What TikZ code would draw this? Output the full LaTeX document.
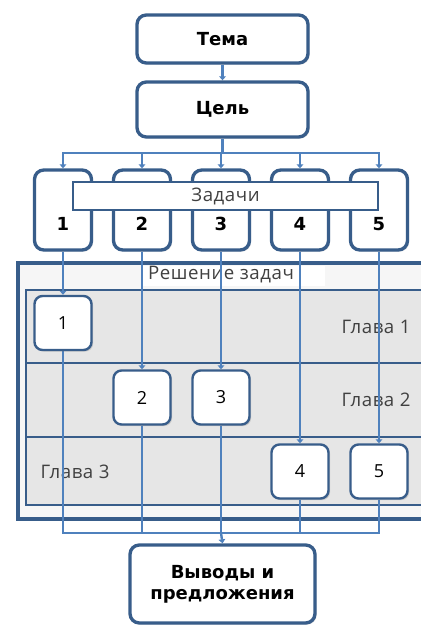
\documentclass[tikz,border=0pt]{standalone}
\usepackage{fontspec}
\setmainfont{Open Sans}[LetterSpace=3]
\newfontfamily\heavyfont{DejaVu Sans}
\usetikzlibrary{arrows.meta,shadows}
\pgfdeclarelayer{panel}
\pgfdeclarelayer{links}
\pgfsetlayers{panel,links,main}
\definecolor{linkblue}{HTML}{4F81BD}
\definecolor{frameblue}{HTML}{385D8A}
\definecolor{rowgray}{HTML}{E6E6E6}
\definecolor{panelgray}{HTML}{F6F6F6}
\definecolor{textgray}{HTML}{404040}
\tikzset{
  link/.style={draw=linkblue, line width=1.8pt},
  arr/.style={link, -{Triangle[length=3pt,width=5pt]}},
  mainbox/.style={draw=frameblue, line width=2.5pt, rounded corners=7pt, fill=white,
    drop shadow={opacity=0.25, shadow xshift=1.2pt, shadow yshift=-1.2pt}},
  heavytext/.style={font=\heavyfont\bfseries\fontsize{13.5}{16}\selectfont, text=black, align=center},
  taskbox/.style={mainbox, minimum width=42.75pt, minimum height=60pt},
  tasknum/.style={font=\heavyfont\bfseries\fontsize{13.5}{16}\selectfont, text=black},
  stepbox/.style={draw=frameblue, line width=1.8pt, rounded corners=6pt, fill=white,
    minimum width=42.75pt, minimum height=40.5pt, font=\fontsize{13.5}{16}\selectfont, text=black,
    drop shadow={opacity=0.3, shadow xshift=1.2pt, shadow yshift=-1.2pt}},
  chaptertext/.style={font=\fontsize{14}{16}\selectfont, text=textgray},
  rowbox/.style={draw=frameblue, line width=1.6pt, fill=rowgray},
}
\begin{document}
\begin{tikzpicture}[x=0.75pt,y=-0.75pt]
\useasboundingbox (0,0) rectangle (421,625);

% panel "Решение задач" with three chapter rows
\begin{pgfonlayer}{panel}
\draw[draw=frameblue, line width=2.6pt, fill=panelgray] (18,263) rectangle (440,519);
\fill[white] (143,266) rectangle (325,286);
\draw[rowbox] (26,290) rectangle (440,363);
\draw[rowbox] (26,363) rectangle (440,437);
\draw[rowbox] (26,437) rectangle (440,505);
\node[chaptertext] (solve) at (221,275) {Решение задач};
\node[chaptertext] (ch1) at (376,327) {Глава 1};
\node[chaptertext] (ch2) at (376,400) {Глава 2};
\node[chaptertext] (ch3) at (75,472) {Глава 3};
\end{pgfonlayer}

% top of the chain
\node[mainbox, minimum width=128.25pt, minimum height=36pt] (tema) at (222.5,39) {};
\node[heavytext] (temat) at (222.5,39) {Тема};
\node[mainbox, minimum width=128.25pt, minimum height=41.25pt] (goal) at (222.5,109.5) {};
\node[heavytext] (goalt) at (222.5,109.5) {Цель};

% task columns
\node[taskbox] (t1) at (63,210) {};
\node[taskbox] (t2) at (142,210) {};
\node[taskbox] (t3) at (221,210) {};
\node[taskbox] (t4) at (300,210) {};
\node[taskbox] (t5) at (379,210) {};
\node[tasknum] (n1) at (63,224) {1};
\node[tasknum] (n2) at (142,224) {2};
\node[tasknum] (n3) at (221,224) {3};
\node[tasknum] (n4) at (300,224) {4};
\node[tasknum] (n5) at (379,224) {5};

% banner across the tasks
\node[draw=frameblue, line width=1.6pt, fill=white, minimum width=228.75pt, minimum height=21pt,
  font=\fontsize{14}{16}\selectfont, text=textgray] (tasks) at (225.5,196) {Задачи};

% solution steps inside the chapters
\node[stepbox] (s1) at (63,323) {1};
\node[stepbox] (s2) at (142,397.5) {2};
\node[stepbox] (s3) at (221,397.5) {3};
\node[stepbox] (s4) at (300,471.5) {4};
\node[stepbox] (s5) at (379,471.5) {5};

% conclusions
\node[mainbox, minimum width=138.75pt, minimum height=58.5pt] (res) at (222.5,584) {};
\node[heavytext] (rest) at (222.5,584) {Выводы и\\предложения};

% connectors
\begin{pgfonlayer}{links}
\coordinate (split) at (222.5,153);
\coordinate (join) at (221,533);
\draw[arr] (tema) -- (goal);
\draw[link] (goal.south) -- (split);
\foreach \t in {t1,t2,t3,t4,t5} { \draw[arr] (split) -| (\t.north); }
\draw[arr] (t1.south) -- (s1.north);
\draw[arr] (t2.south) -- (s2.north);
\draw[arr] (t3.south) -- (s3.north);
\draw[arr] (t4.south) -- (s4.north);
\draw[arr] (t5.south) -- (s5.north);
\foreach \s in {s1,s2,s3,s4,s5} { \draw[link] (\s.south) |- (join); }
\draw[arr] (join) -- (res.north);
\end{pgfonlayer}
\end{tikzpicture}
\end{document}
